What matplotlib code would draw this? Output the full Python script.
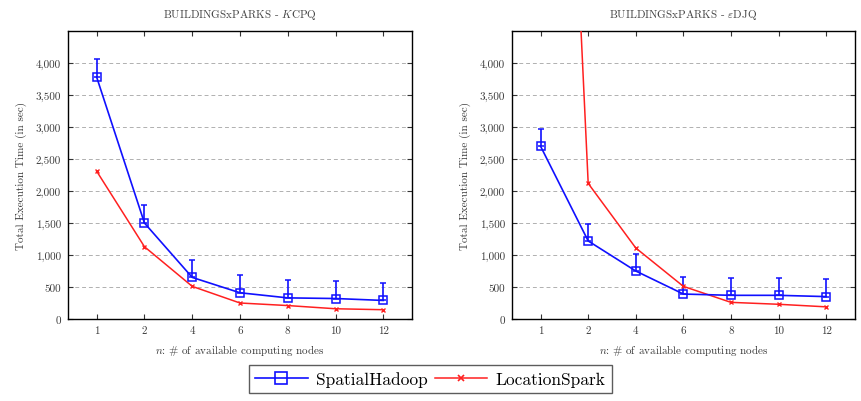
import matplotlib

matplotlib.use("Agg")
import matplotlib.pyplot as plt
import numpy as np
from matplotlib.lines import Line2D
from matplotlib.ticker import FuncFormatter

plt.rcParams.update({
    "font.family": "serif", "font.serif": ["cmr10", "DejaVu Serif"],
    "mathtext.fontset": "cm", "axes.formatter.use_mathtext": True,
    "font.size": 8, "axes.unicode_minus": False,
})

nodes = ["1", "2", "4", "6", "8", "10", "12"]

# left panel: KCPQ
kcpq_hadoop = [3780, 1500, 650, 410, 330, 320, 290]
kcpq_hadoop_err = [280, 280, 270, 270, 280, 270, 280]
kcpq_spark = [2310, 1130, 510, 250, 210, 160, 145]

# right panel: eDJQ
edjq_hadoop = [2700, 1220, 750, 390, 370, 370, 350]
edjq_hadoop_err = [270, 270, 270, 270, 270, 270, 270]
edjq_spark = [18000, 2120, 1110, 510, 260, 230, 190]

titles = [r"BUILDINGSxPARKS - $K$CPQ", r"BUILDINGSxPARKS - $\varepsilon$DJQ"]
C_HAD, C_SPK = "#1010ff", "#ff2020"
C_TXT = "#3a3a3a"

fig = plt.figure(figsize=(8.61, 4.02), dpi=100)
axes = [fig.add_axes([0.079, 0.204, 0.3995, 0.716]),
        fig.add_axes([0.5947, 0.204, 0.398, 0.716])]

x = np.arange(len(nodes))
panels = [(kcpq_hadoop, kcpq_hadoop_err, kcpq_spark), (edjq_hadoop, edjq_hadoop_err, edjq_spark)]
for ax, title, (had, err, spk) in zip(axes, titles, panels):
    ax.errorbar(x, had, yerr=[np.zeros(len(err)), err], color=C_HAD, lw=1.2,
                marker="s", ms=6, mfc="none", mew=1.1, capsize=2.5, elinewidth=1.2,
                zorder=3)
    ax.plot(x, spk, color=C_SPK, lw=1.1, marker="x", ms=3.5, mew=1.0, zorder=3)
    ax.set_xlim(-0.6, 6.6)
    ax.set_ylim(0, 4500)
    ax.set_xticks(x, nodes)
    ax.set_yticks(np.arange(0, 4001, 500))
    ax.yaxis.set_major_formatter(FuncFormatter(lambda v, p: f"{v:,.0f}"))
    ax.grid(axis="y", ls=(0, (4, 3)), color="#b0b0b0", lw=0.7)
    ax.tick_params(direction="in", top=True, right=True, length=3.5, colors="#333333",
                   labelcolor=C_TXT, pad=5, labelsize=8)
    for s in ax.spines.values():
        s.set_linewidth(1.0)
    ax.set_title(title, fontsize=8, color="#444444", pad=10)
    ax.set_ylabel("Total Execution Time (in sec)", color=C_TXT, labelpad=6)
    ax.set_xlabel(r"$n$: # of available computing nodes", color=C_TXT, labelpad=5)

handles = [Line2D([], [], color=C_HAD, lw=1.2, marker="s", ms=8, mfc="none", mew=1.2),
           Line2D([], [], color=C_SPK, lw=1.1, marker="x", ms=5, mew=1.2)]
fig.legend(handles, ["SpatialHadoop", "LocationSpark"], loc="center",
           bbox_to_anchor=(0.5, 0.054), ncol=2, fontsize=12.5, frameon=True,
           fancybox=False, edgecolor="#333333", handlelength=3.0,
           columnspacing=0.4, handletextpad=0.5, borderpad=0.35)

fig.savefig("out.png", dpi=100)
